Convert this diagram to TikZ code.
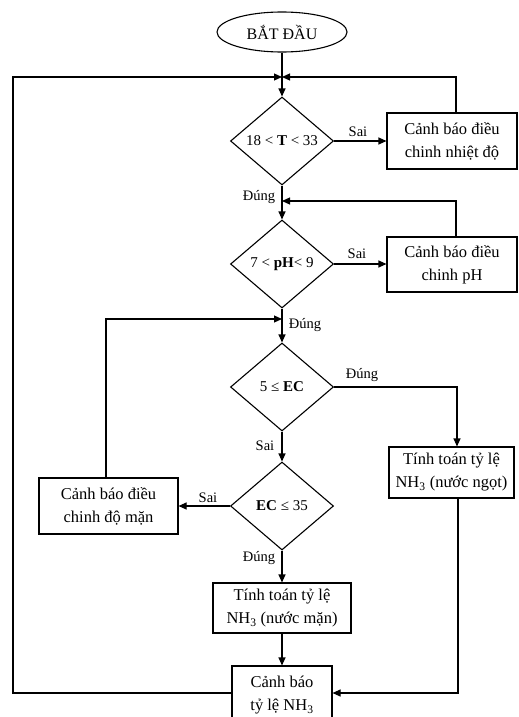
\documentclass[tikz,border=0pt]{standalone}
\usepackage{fontspec}
\setmainfont{Liberation Serif}
\usetikzlibrary{shapes.geometric,arrows.meta}
\begin{document}
\begin{tikzpicture}[x=1pt,y=-1pt,
  line width=1.1pt,
  arr/.style={-{Triangle[length=8pt,width=7pt]}},
  box/.style={draw,rectangle,inner sep=0pt,align=center,font=\fontsize{16.5}{23}\selectfont},
  dec/.style={draw,diamond,inner sep=0pt,minimum width=103pt,minimum height=88pt,font=\fontsize{15}{18}\selectfont},
  lbl/.style={font=\fontsize{14.5}{17}\selectfont,inner sep=0pt}]
\clip (0,0) rectangle (519,717);
\useasboundingbox (0,0) rectangle (519,717);

\node[draw,ellipse,minimum width=130pt,minimum height=40pt,inner sep=0pt,font=\fontsize{16}{19}\selectfont] (start) at (282,32) {BẮT ĐẦU};

\node[dec] (d1) at (282,141) {18 < \textbf{T} < 33};
\node[dec] (d2) at (282,264) {7 < \textbf{pH}< 9};
\node[dec] (d3) at (282,387) {5 ≤ \textbf{EC}};
\node[dec] (d4) at (282,506) {\textbf{EC} ≤ 35};

\node[box,minimum width=130pt,minimum height=56pt] (b1) at (452,141) {Cảnh báo điều\\chinh nhiệt độ};
\node[box,minimum width=130pt,minimum height=55pt] (b2) at (452,264.5) {Cảnh báo điều\\chinh pH};
\node[box,minimum width=139pt,minimum height=56pt] (b3) at (108.5,506) {Cảnh báo điều\\chinh độ mặn};
\node[box,minimum width=125pt,minimum height=51pt] (b4) at (451.5,472.5) {Tính toán tỷ lệ\\NH\textsubscript{3} (nước ngọt)};
\node[box,minimum width=138pt,minimum height=50pt] (b5) at (282,608) {Tính toán tỷ lệ\\NH\textsubscript{3} (nước mặn)};
\node[box,minimum width=100pt,minimum height=58pt,text depth=0pt] (b6) at (282,695) {\raisebox{14pt}{\parbox{90pt}{\centering Cảnh báo\\tỷ lệ NH\textsubscript{3}}}};

\coordinate (j1) at (282,77);
\coordinate (j2) at (282,201);
\coordinate (j3) at (282,319);
\coordinate (l1) at (13,77);
\coordinate (l2) at (13,693);
\coordinate (r1) at (456,77);
\coordinate (r2) at (456,201);
\coordinate (m1) at (106,319);
\coordinate (e1) at (457,387);
\coordinate (n1) at (458,693);

% top loop
\draw (start.south) -- (j1);
\draw[arr] (j1) -- (d1.north);
\draw[arr] (b6.west |- l2) -- (l2) -- (l1) -- (j1);
\draw[arr] (r1 |- b1.north) -- (r1) -- (j1);
\draw[arr] (d1.east) -- (b1.west |- d1.east);
\node[lbl] at (358,132) {Sai};

% second
\draw (d1.south) -- (j2);
\draw[arr] (j2) -- (d2.north);
\node[lbl] at (259,197) {Đúng};
\draw[arr] (r2 |- b2.north) -- (r2) -- (j2);
\draw[arr] (d2.east) -- (b2.west |- d2.east);
\node[lbl] at (357,254) {Sai};

% third
\draw (d2.south) -- (j3);
\draw[arr] (j3) -- (d3.north);
\node[lbl] at (305,325) {Đúng};
\draw[arr] (m1 |- b3.north) -- (m1) -- (j3);
\draw[arr] (d3.east) -- (e1) -- (e1 |- b4.north);
\node[lbl] at (362,375) {Đúng};

% fourth
\draw[arr] (d3.south) -- (d4.north);
\node[lbl] at (265,446) {Sai};
\draw[arr] (d4.west) -- (b3.east |- d4.west);
\node[lbl] at (208,498) {Sai};
\draw[arr] (d4.south) -- (b5.north);
\node[lbl] at (259,558) {Đúng};
\draw[arr] (b5.south) -- (b6.north);
\draw[arr] (n1 |- b4.south) -- (n1) -- (b6.east |- n1);
\end{tikzpicture}
\end{document}
